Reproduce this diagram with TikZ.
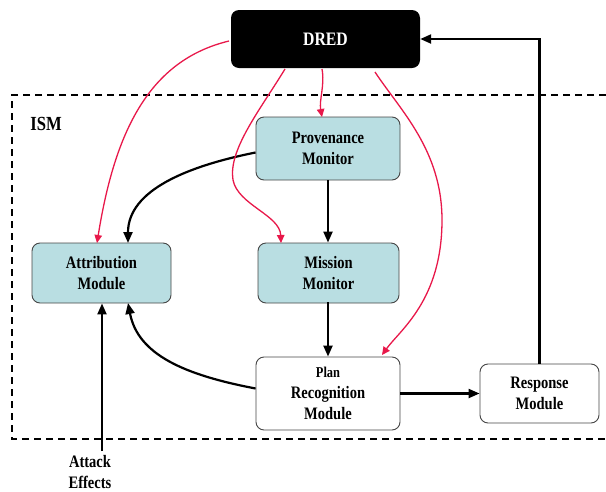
\documentclass[tikz,border=0pt]{standalone}
\usepackage{fontspec}
\setmainfont{Liberation Serif}[FakeStretch=0.83]
\usetikzlibrary{arrows.meta}
\definecolor{boxfill}{RGB}{185,222,226}
\definecolor{boxline}{RGB}{70,70,70}
\definecolor{ctrl}{RGB}{232,24,74}
\begin{document}
\begin{tikzpicture}[x=1pt,y=-1pt,
  every node/.style={font=\fontsize{17.5}{21}\selectfont\bfseries, align=center, inner sep=0pt},
  module/.style={draw=boxline, line width=0.9pt, rounded corners=8pt, fill=boxfill},
  plainmod/.style={draw=boxline, line width=0.9pt, rounded corners=8pt, fill=white},
  flow/.style={line width=2.2pt, -{Triangle[length=11pt,width=9pt]}},
  control/.style={draw=ctrl, line width=1.3pt, -{Triangle[length=8pt,width=7.5pt]}},
  boundary/.style={line width=1.3pt, dash pattern=on 7pt off 5pt}]
\useasboundingbox (0,0) rectangle (606,491);

% ISM boundary (open on the right)
\draw[boundary] (606,95) -- (12,95) -- (12,439) -- (606,439);
\node (ism) at (46,124) {\fontsize{20}{24}\selectfont ISM};

% modules
\node[fill=black, rounded corners=8pt, minimum width=189pt, minimum height=58pt, text=white,
      font=\fontsize{19}{22}\selectfont\bfseries] (dred) at (325.5,39) {DRED};
\node[module, minimum width=144pt, minimum height=63pt] (prov) at (328,148.5) {Provenance\\Monitor};
\node[module, minimum width=139pt, minimum height=60pt] (attr) at (101.5,273) {Attribution\\Module};
\node[module, minimum width=141pt, minimum height=60pt] (miss) at (328.5,273) {Mission\\Monitor};
\node[plainmod, minimum width=144pt, minimum height=73pt] (plan) at (328,393.5)
  {{\fontsize{15}{20}\selectfont Plan}\\Recognition\\Module};
\node[plainmod, minimum width=119pt, minimum height=59pt] (resp) at (539.5,393.5) {Response\\Module};
\node (attack) at (90,472) {Attack\\Effects};
\coordinate (atk) at (102,451);

% data flow
\draw[flow] (prov.south) -- (prov.south |- miss.north);
\draw[flow] (miss.south) -- (miss.south -| plan.north) -- (plan.north);
\draw[flow] (plan.east) -- (resp.west);
\draw[flow] (resp.north) |- (dred.east);
\draw[flow] ([yshift=-4pt]prov.west) .. controls (188,166) and (128,190) .. (128,243);
\draw[flow] ([yshift=5pt]plan.west) .. controls (185,375) and (138,355) .. (128,303);
\draw[flow] (atk) -- (atk |- attr.south);

% control from DRED
\draw[control] (229,41) .. controls (150,60) and (115,130) .. (97,243);
\draw[control] (322,69) .. controls (325,85) and (319,100) .. (322,117);
\draw[control] (285,69) .. controls (260,110) and (228,150) .. (233,180)
  .. controls (238,205) and (280,215) .. (281,243);
\draw[control] (375,72) .. controls (400,110) and (442,150) .. (442,220)
  .. controls (442,300) and (400,330) .. (382,355);
\end{tikzpicture}
\end{document}
